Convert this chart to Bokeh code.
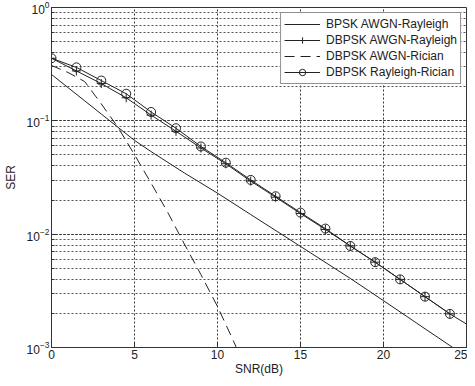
from bokeh.plotting import figure
from bokeh.models import FixedTicker, Legend, LogTicker
from bokeh.embed import file_html
from bokeh.resources import INLINE

# SNR grids
snr_solid = [0, 1, 2, 3, 4, 5, 6, 8, 10, 12, 14, 16, 18, 20, 22, 24, 25]
ser_bpsk_awgn_rayleigh = [0.2565, 0.1962, 0.1501, 0.1148, 0.0878, 0.0672, 0.0535, 0.0347,
                          0.0230, 0.0149, 0.00968, 0.00628, 0.00407, 0.00259, 0.00164,
                          0.00104, 0.00083]

snr_rician = [0, 1, 2, 3, 4, 5, 6, 7, 8, 9, 10, 11, 12]
ser_dbpsk_awgn_rician = [0.308, 0.267, 0.222, 0.141, 0.0878, 0.0503, 0.0282, 0.0156,
                         0.0082, 0.0044, 0.0023, 0.00111, 0.0005]

snr_marked = [0, 1.5, 3, 4.5, 6, 7.5, 9, 10.5, 12, 13.5, 15, 16.5, 18, 19.5, 21, 22.5, 24]
ser_dbpsk_awgn_rayleigh = [0.3567, 0.2758, 0.2131, 0.1597, 0.1124, 0.0809, 0.0576, 0.0418,
                           0.0294, 0.0212, 0.0152, 0.0110, 0.00787, 0.00566, 0.00399,
                           0.00281, 0.00198]
ser_dbpsk_rayleigh_rician = [0.3567, 0.2963, 0.2266, 0.1734, 0.1197, 0.0860, 0.0594, 0.0427,
                             0.0301, 0.0216, 0.0155, 0.0112, 0.00787, 0.00566, 0.00399,
                             0.00281, 0.00198]
snr_tail = [24, 25]
ser_tail = [0.00198, 0.00161]

x_ticks = [0, 5, 10, 15, 20, 25]

FONT = "Liberation Sans"
LC = "#222222"

p = figure(width=467, height=378, x_range=(0, 25), y_range=(1e-3, 1),
           y_axis_type="log", output_backend="svg", toolbar_location=None,
           min_border_left=40, min_border_right=1, min_border_top=7, min_border_bottom=20)
p.background_fill_color = "white"
p.border_fill_color = "white"
p.outline_line_color = "#333333"
p.outline_line_width = 1

r1 = p.line(snr_solid, ser_bpsk_awgn_rayleigh, line_color=LC, line_width=1)
r2l = p.line(snr_marked, ser_dbpsk_awgn_rayleigh, line_color=LC, line_width=1)
p.line(snr_tail, ser_tail, line_color=LC, line_width=1)
r2m = p.scatter(snr_marked, ser_dbpsk_awgn_rayleigh, marker="cross", size=9,
                line_color=LC, line_width=1)
r3 = p.line(snr_rician, ser_dbpsk_awgn_rician, line_color=LC, line_width=1, line_dash="10 6")
r4l = p.line(snr_marked, ser_dbpsk_rayleigh_rician, line_color=LC, line_width=1)
r4m = p.scatter(snr_marked, ser_dbpsk_rayleigh_rician, marker="circle", size=9,
                line_color=LC, fill_color=None, line_width=1)

legend = Legend(items=[("BPSK AWGN-Rayleigh", [r1]),
                       ("DBPSK AWGN-Rayleigh", [r2l, r2m]),
                       ("DBPSK AWGN-Rician", [r3]),
                       ("DBPSK Rayleigh-Rician", [r4l, r4m])],
                location="top_right")
legend.label_text_font = FONT
legend.label_text_font_size = "12px"
legend.label_text_color = "#222222"
legend.border_line_color = "#222222"
legend.border_line_width = 1
legend.background_fill_alpha = 1
legend.glyph_width = 36
legend.glyph_height = 16
legend.label_height = 16
legend.spacing = 0
legend.padding = 3
legend.margin = 5
legend.label_standoff = 6
p.add_layout(legend)

p.xaxis.ticker = FixedTicker(ticks=x_ticks)
p.yaxis.ticker = LogTicker(num_minor_ticks=10)
for ax in (p.xaxis[0], p.yaxis[0]):
    ax.major_tick_in = 5
    ax.major_tick_out = 0
    ax.minor_tick_in = 3
    ax.minor_tick_out = 0
    ax.axis_line_color = "#333333"
    ax.major_tick_line_color = "#333333"
    ax.minor_tick_line_color = "#333333"
    ax.major_label_text_font = FONT
    ax.major_label_text_font_size = "12px"
    ax.major_label_text_color = "#222222"
    ax.major_label_standoff = 2
    ax.axis_label_text_font = FONT
    ax.axis_label_text_font_size = "12px"
    ax.axis_label_text_font_style = "normal"
    ax.axis_label_text_color = "#222222"
p.xaxis.minor_tick_line_color = None
p.xaxis.axis_label = "SNR(dB)"
p.yaxis.axis_label = "SER"
p.xaxis.axis_label_standoff = 0
p.yaxis.axis_label_standoff = 6

p.xgrid.grid_line_color = "#333333"
p.xgrid.grid_line_dash = "2 2"
p.xgrid.grid_line_width = 1
p.ygrid.grid_line_color = "#333333"
p.ygrid.grid_line_dash = "2 2"
p.ygrid.minor_grid_line_color = "#555555"
p.ygrid.minor_grid_line_dash = "2 2"

open("out.html", "w").write(file_html(p, INLINE))
